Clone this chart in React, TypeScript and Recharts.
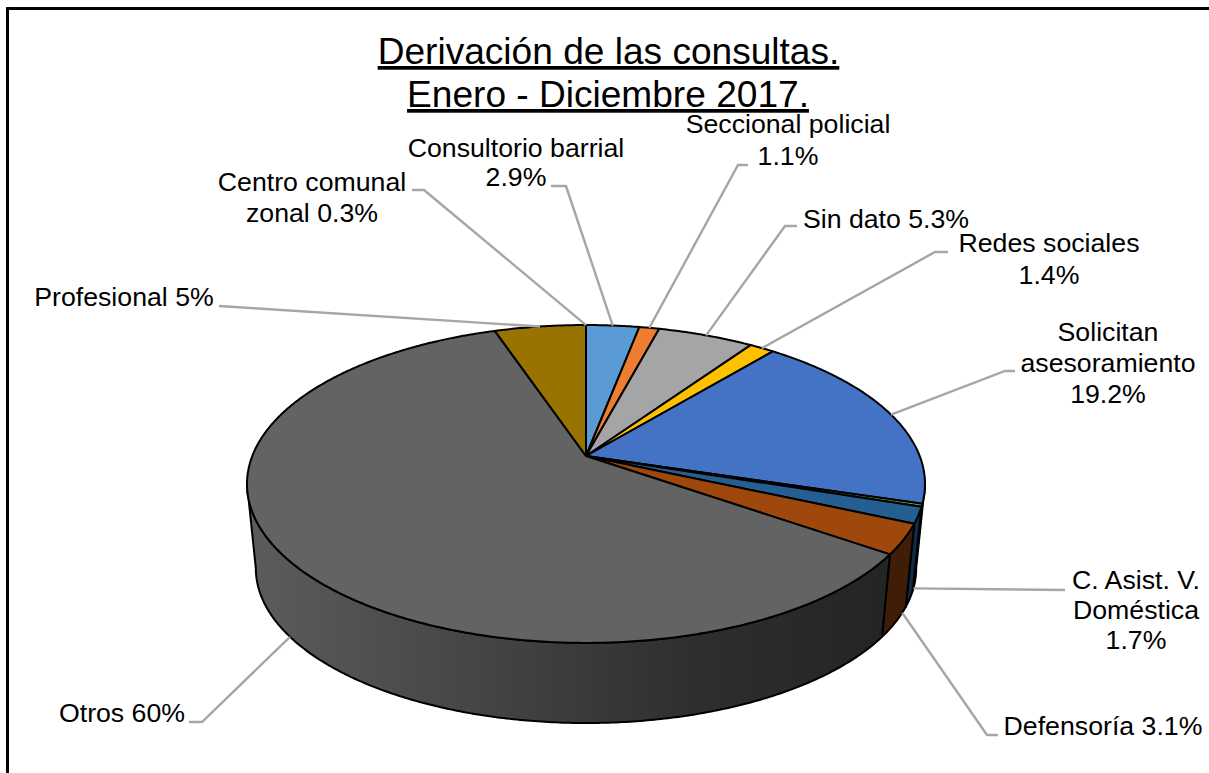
import { PieChart, Pie, Cell } from "recharts";

const NAMES = [
  "Consultorio barrial",
  "Seccional policial",
  "Sin dato",
  "Redes sociales",
  "Solicitan asesoramiento",
  "Centro comunal zonal",
  "C. Asist. V. Doméstica",
  "Defensoría",
  "Otros",
  "Profesional"
];
const VALUES = [2.9, 1.1, 5.3, 1.4, 19.2, 0.3, 1.7, 3.1, 60, 5];
const LABEL_LINES = [
  ["Consultorio barrial", "2.9%"],
  ["Seccional policial", "1.1%"],
  ["Sin dato 5.3%"],
  ["Redes sociales", "1.4%"],
  ["Solicitan", "asesoramiento", "19.2%"],
  ["Centro comunal", "zonal 0.3%"],
  ["C. Asist. V.", "Doméstica", "1.7%"],
  ["Defensoría 3.1%"],
  ["Otros 60%"],
  ["Profesional 5%"]
];

const TOP_COLORS = [
  "#5B9BD5", "#ED7D31", "#A5A5A5", "#FFC000", "#4472C4",
  "#70AD47", "#255E91", "#9E480E", "#636363", "#997300"
];
const WALL_COLORS = [
  "#2a4d6e", "#7a3d14", "#525252", "#806000", "#1d3560",
  "#38562a", "#0f2c48", "#3f1d06", "url(#otrosWall)", "#4d3900"
];

const WIDTH = 1209;
const HEIGHT = 773;
const CX = 586;
const CY = 456;
const RADIUS = 333.7;

// the pie is tilted, so the apex sits above the centre of the rim ellipse
const SQUASH = 154 / 333.7;
const TILT = 0.176;
const ANGLE_STRETCH = 1;
const WALL_DROP = 85;
const WALL_SCALE = 0.974;
const WALL_FROM = 100.44;
const WALL_TO = 259.56;

const FONT = "'Liberation Sans', Arial, sans-serif";
const LEADER = "#A6A6A6";

// clockwise degrees from 12 o'clock
const project = (theta: number) => {
  const seen = theta + ANGLE_STRETCH * Math.sin((2 * theta * Math.PI) / 180);
  const rad = (seen * Math.PI) / 180;
  const u = Math.sin(rad);
  const v = Math.cos(rad);
  const w = 1 + TILT * v;
  return { x: (RADIUS * u) / w, y: (-RADIUS * SQUASH * v) / w };
};
const topRim = (theta: number) => {
  const p = project(theta);
  return { x: CX + p.x, y: CY + p.y };
};
const bottomRim = (theta: number) => {
  const p = project(theta);
  return { x: CX + p.x * WALL_SCALE, y: CY + WALL_DROP + p.y * WALL_SCALE };
};
const sweep = (from: number, to: number) => {
  const steps = Math.max(2, Math.ceil((to - from) * 2));
  return Array.from({ length: steps + 1 }, (_, i) => from + ((to - from) * i) / steps);
};
const toPath = (pts: { x: number; y: number }[]) =>
  pts.map((p, i) => `${i ? "L" : "M"}${p.x.toFixed(2)} ${p.y.toFixed(2)}`).join(" ");

function TopSlice(props: any) {
  const from = 90 - props.startAngle;
  const to = 90 - props.endAngle;
  const d = toPath([{ x: CX, y: CY }, ...sweep(from, to).map(topRim)]) + " Z";
  return <path d={d} fill={props.fill} stroke="#000" strokeWidth={2} strokeLinejoin="round" />;
}

function WallSlice(props: any) {
  const from = Math.max(90 - props.startAngle, WALL_FROM);
  const to = Math.min(90 - props.endAngle, WALL_TO);
  if (to <= from) return null;
  const angles = sweep(from, to);
  const d = toPath([...angles.map(topRim), ...[...angles].reverse().map(bottomRim)]) + " Z";
  return <path d={d} fill={props.fill} stroke="#000" strokeWidth={2} strokeLinejoin="round" />;
}

// label block: x is the text centre, y the first baseline, gap the line step, lead the leader's bend
const LABEL_LAYOUT: any[] = [
  { x: 516, y: 157, gap: 29, lead: [[551, 186], [566, 186]], rim: "top" },
  { x: 788, y: 133, gap: 32, lead: [[748, 165], [738, 165]], rim: "top" },
  { x: 886, y: 228, gap: 0, lead: [[797, 226], [785, 226]], rim: "top" },
  { x: 1049, y: 252, gap: 32, lead: [[948, 252], [935, 252]], rim: "top" },
  { x: 1108, y: 341, gap: 31, lead: [[1015, 371], [1005, 371]], rim: "top" },
  { x: 312, y: 191, gap: 31, lead: [[412, 190], [424, 190]], rim: "top", anchorAt: 0 },
  { x: 1136, y: 589, gap: 30, lead: [[1065, 590]], rim: "bottom", anchorAt: 108 },
  { x: 1103, y: 735, gap: 0, lead: [[998, 735], [987, 735]], rim: "bottom", anchorAt: 117 },
  { x: 122, y: 722, gap: 0, lead: [[189, 722], [202, 722]], rim: "bottom" },
  { x: 124, y: 306, gap: 0, lead: [[219, 306], [235, 307]], rim: "top" }
];

function SliceLabel(props: any) {
  const { index, midAngle } = props;
  const spot = LABEL_LAYOUT[index];
  const theta = spot.anchorAt ?? 90 - midAngle;
  const end = spot.rim === "top" ? topRim(theta) : bottomRim(theta);
  const points = [...spot.lead, [end.x, end.y]].map((p) => p.join(",")).join(" ");
  return (
    <g key={index}>
      <polyline points={points} fill="none" stroke={LEADER} strokeWidth={2.4} />
      {LABEL_LINES[index].map((line, i) => (
        <text
          key={line}
          x={spot.x}
          y={spot.y + i * spot.gap}
          textAnchor="middle"
          fontFamily={FONT}
          fontSize={26.7}
          fill="#000"
        >
          {line}
        </text>
      ))}
    </g>
  );
}

const rows = NAMES.map((name, i) => ({ name, value: VALUES[i] }));

export default function App() {
  return (
    <div style={{ position: "absolute", left: 0, top: 0, width: WIDTH, height: HEIGHT, background: "#fff" }}>
      <div style={{ position: "absolute", left: 6, top: 7, right: 0, height: 3, background: "#000" }} />
      <div style={{ position: "absolute", left: 6, top: 7, bottom: 0, width: 3, background: "#000" }} />
      <PieChart width={WIDTH} height={HEIGHT} margin={{ top: 0, right: 0, bottom: 0, left: 0 }}>
        <defs>
          <linearGradient id="otrosWall" gradientUnits="userSpaceOnUse" x1="250" y1="0" x2="890" y2="0">
            <stop offset="0%" stopColor="#5c5c5c" />
            <stop offset="40%" stopColor="#424242" />
            <stop offset="70%" stopColor="#2e2e2e" />
            <stop offset="100%" stopColor="#242424" />
          </linearGradient>
        </defs>
        <text x={608.5} y={64} textAnchor="middle" fontFamily={FONT} fontSize={37.1} textDecoration="underline">
          Derivación de las consultas.
        </text>
        <text x={608} y={107} textAnchor="middle" fontFamily={FONT} fontSize={37.1} textDecoration="underline">
          Enero - Diciembre 2017.
        </text>
        <Pie
          data={rows}
          dataKey="value"
          nameKey="name"
          cx={CX}
          cy={CY}
          outerRadius={RADIUS}
          startAngle={90}
          endAngle={-270}
          stroke="none"
          shape={WallSlice}
          isAnimationActive={false}
        >
          {rows.map((row, i) => (
            <Cell key={row.name} fill={WALL_COLORS[i]} />
          ))}
        </Pie>
        <Pie
          data={rows}
          dataKey="value"
          nameKey="name"
          cx={CX}
          cy={CY}
          outerRadius={RADIUS}
          startAngle={90}
          endAngle={-270}
          stroke="none"
          shape={TopSlice}
          label={SliceLabel}
          labelLine={false}
          isAnimationActive={false}
        >
          {rows.map((row, i) => (
            <Cell key={row.name} fill={TOP_COLORS[i]} />
          ))}
        </Pie>
      </PieChart>
    </div>
  );
}
